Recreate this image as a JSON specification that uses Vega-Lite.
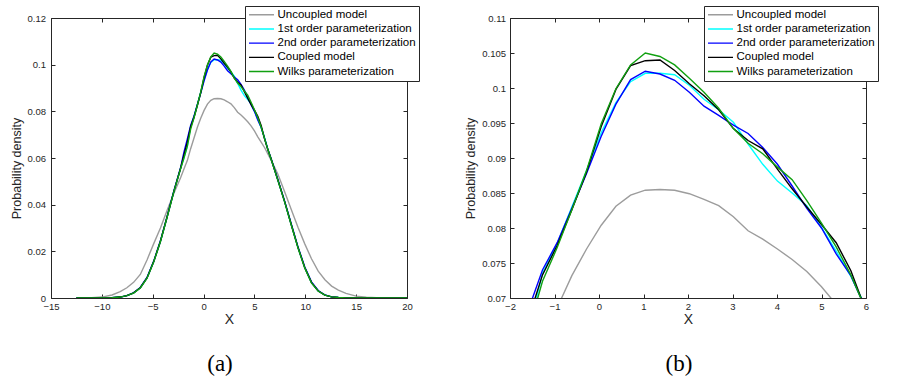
{
"$schema": "https://vega.github.io/schema/vega-lite/v6.json",
"background": "white",
"padding": {"left": 9, "top": 5, "right": 0, "bottom": 0},
"bounds": "flush",
"spacing": 103,
"config": {
"view": {"stroke": "#262626", "strokeWidth": 1},
"axis": {"grid": false, "domain": false, "labelFlush": false, "tickColor": "#262626", "tickSize": -4, "labelFont": "Liberation Sans", "labelFontSize": 9.5, "labelColor": "#262626", "titleFont": "Liberation Sans", "titleFontWeight": "normal", "titleColor": "#262626"},
"legend": {"orient": "none", "legendX": 194, "legendY": -12, "title": null, "symbolType": "stroke", "symbolStrokeWidth": 1.4, "symbolSize": 625, "clipHeight": 11.5, "labelFont": "Liberation Sans", "labelFontSize": 11.5, "labelColor": "black", "padding": 3, "strokeColor": "#262626", "fillColor": "white", "labelOffset": 2.5, "rowPadding": 1.2}
},
"resolve": {"legend": {"color": "independent"}, "scale": {"color": "independent"}},
"datasets": {"pdf": [
{"series":"Uncoupled model","x":-12.5,"density":0},
{"series":"Uncoupled model","x":-11,"density":0.0001},
{"series":"Uncoupled model","x":-10,"density":0.0004},
{"series":"Uncoupled model","x":-9,"density":0.0013},
{"series":"Uncoupled model","x":-8.2,"density":0.0027},
{"series":"Uncoupled model","x":-7.54,"density":0.0044},
{"series":"Uncoupled model","x":-6.88,"density":0.0067},
{"series":"Uncoupled model","x":-6.22,"density":0.0101},
{"series":"Uncoupled model","x":-5.56,"density":0.0163},
{"series":"Uncoupled model","x":-4.9,"density":0.0233},
{"series":"Uncoupled model","x":-4.24,"density":0.03},
{"series":"Uncoupled model","x":-3.58,"density":0.0376},
{"series":"Uncoupled model","x":-2.92,"density":0.0449},
{"series":"Uncoupled model","x":-2.26,"density":0.0515},
{"series":"Uncoupled model","x":-1.93,"density":0.0553},
{"series":"Uncoupled model","x":-1.6,"density":0.0589},
{"series":"Uncoupled model","x":-1.27,"density":0.064},
{"series":"Uncoupled model","x":-0.94,"density":0.0686},
{"series":"Uncoupled model","x":-0.61,"density":0.0732},
{"series":"Uncoupled model","x":-0.28,"density":0.077},
{"series":"Uncoupled model","x":0.05,"density":0.0804},
{"series":"Uncoupled model","x":0.38,"density":0.0831},
{"series":"Uncoupled model","x":0.71,"density":0.0847},
{"series":"Uncoupled model","x":1.04,"density":0.0854},
{"series":"Uncoupled model","x":1.37,"density":0.0855},
{"series":"Uncoupled model","x":1.7,"density":0.0854},
{"series":"Uncoupled model","x":2.03,"density":0.0849},
{"series":"Uncoupled model","x":2.36,"density":0.0841},
{"series":"Uncoupled model","x":2.69,"density":0.0832},
{"series":"Uncoupled model","x":3.02,"density":0.0816},
{"series":"Uncoupled model","x":3.35,"density":0.0796},
{"series":"Uncoupled model","x":3.68,"density":0.0784},
{"series":"Uncoupled model","x":4.01,"density":0.077},
{"series":"Uncoupled model","x":4.34,"density":0.0755},
{"series":"Uncoupled model","x":4.67,"density":0.0738},
{"series":"Uncoupled model","x":5,"density":0.0716},
{"series":"Uncoupled model","x":5.33,"density":0.0691},
{"series":"Uncoupled model","x":5.66,"density":0.0668},
{"series":"Uncoupled model","x":5.99,"density":0.0645},
{"series":"Uncoupled model","x":6.32,"density":0.0618},
{"series":"Uncoupled model","x":6.65,"density":0.059},
{"series":"Uncoupled model","x":7.31,"density":0.053},
{"series":"Uncoupled model","x":7.97,"density":0.0455},
{"series":"Uncoupled model","x":8.63,"density":0.0378},
{"series":"Uncoupled model","x":9.29,"density":0.0302},
{"series":"Uncoupled model","x":9.95,"density":0.0232},
{"series":"Uncoupled model","x":10.61,"density":0.0168},
{"series":"Uncoupled model","x":11.27,"density":0.0115},
{"series":"Uncoupled model","x":11.93,"density":0.0078},
{"series":"Uncoupled model","x":12.59,"density":0.0051},
{"series":"Uncoupled model","x":13.25,"density":0.0034},
{"series":"Uncoupled model","x":14,"density":0.002},
{"series":"Uncoupled model","x":15,"density":0.0008},
{"series":"Uncoupled model","x":16,"density":0.0003},
{"series":"Uncoupled model","x":17,"density":0.0001},
{"series":"Uncoupled model","x":20,"density":0},
{"series":"1st order parameterization","x":-12.5,"density":0},
{"series":"1st order parameterization","x":-11,"density":0},
{"series":"1st order parameterization","x":-10,"density":0.00002},
{"series":"1st order parameterization","x":-9,"density":0.0001},
{"series":"1st order parameterization","x":-8.2,"density":0.0004},
{"series":"1st order parameterization","x":-7.54,"density":0.001},
{"series":"1st order parameterization","x":-6.88,"density":0.0022},
{"series":"1st order parameterization","x":-6.22,"density":0.0044},
{"series":"1st order parameterization","x":-5.56,"density":0.0086},
{"series":"1st order parameterization","x":-4.9,"density":0.0156},
{"series":"1st order parameterization","x":-4.24,"density":0.0243},
{"series":"1st order parameterization","x":-3.58,"density":0.0348},
{"series":"1st order parameterization","x":-2.92,"density":0.0457},
{"series":"1st order parameterization","x":-2.26,"density":0.0556},
{"series":"1st order parameterization","x":-1.93,"density":0.06},
{"series":"1st order parameterization","x":-1.6,"density":0.065},
{"series":"1st order parameterization","x":-1.27,"density":0.0735},
{"series":"1st order parameterization","x":-0.94,"density":0.0778},
{"series":"1st order parameterization","x":-0.61,"density":0.083},
{"series":"1st order parameterization","x":-0.28,"density":0.0882},
{"series":"1st order parameterization","x":0.05,"density":0.0936},
{"series":"1st order parameterization","x":0.38,"density":0.0979},
{"series":"1st order parameterization","x":0.71,"density":0.1009},
{"series":"1st order parameterization","x":1.04,"density":0.1021},
{"series":"1st order parameterization","x":1.37,"density":0.1021},
{"series":"1st order parameterization","x":1.7,"density":0.1019},
{"series":"1st order parameterization","x":2.03,"density":0.1004},
{"series":"1st order parameterization","x":2.36,"density":0.0984},
{"series":"1st order parameterization","x":2.69,"density":0.0969},
{"series":"1st order parameterization","x":3.02,"density":0.0951},
{"series":"1st order parameterization","x":3.35,"density":0.092},
{"series":"1st order parameterization","x":3.68,"density":0.0891},
{"series":"1st order parameterization","x":4.01,"density":0.0867},
{"series":"1st order parameterization","x":4.34,"density":0.085},
{"series":"1st order parameterization","x":4.67,"density":0.0832},
{"series":"1st order parameterization","x":5,"density":0.0801},
{"series":"1st order parameterization","x":5.33,"density":0.0767},
{"series":"1st order parameterization","x":5.66,"density":0.0731},
{"series":"1st order parameterization","x":5.99,"density":0.0688},
{"series":"1st order parameterization","x":6.32,"density":0.0637},
{"series":"1st order parameterization","x":6.65,"density":0.0595},
{"series":"1st order parameterization","x":7.31,"density":0.0505},
{"series":"1st order parameterization","x":7.97,"density":0.0413},
{"series":"1st order parameterization","x":8.63,"density":0.0313},
{"series":"1st order parameterization","x":9.29,"density":0.0215},
{"series":"1st order parameterization","x":9.95,"density":0.013},
{"series":"1st order parameterization","x":10.61,"density":0.0066},
{"series":"1st order parameterization","x":11.27,"density":0.003},
{"series":"1st order parameterization","x":11.93,"density":0.0012},
{"series":"1st order parameterization","x":12.59,"density":0.0005},
{"series":"1st order parameterization","x":13.25,"density":0.0002},
{"series":"1st order parameterization","x":14,"density":0.00005},
{"series":"1st order parameterization","x":15,"density":0},
{"series":"1st order parameterization","x":16,"density":0},
{"series":"1st order parameterization","x":17,"density":0},
{"series":"1st order parameterization","x":20,"density":0},
{"series":"2nd order parameterization","x":-12.5,"density":0},
{"series":"2nd order parameterization","x":-11,"density":0},
{"series":"2nd order parameterization","x":-10,"density":0.00002},
{"series":"2nd order parameterization","x":-9,"density":0.0001},
{"series":"2nd order parameterization","x":-8.2,"density":0.0004},
{"series":"2nd order parameterization","x":-7.54,"density":0.001},
{"series":"2nd order parameterization","x":-6.88,"density":0.0022},
{"series":"2nd order parameterization","x":-6.22,"density":0.0045},
{"series":"2nd order parameterization","x":-5.56,"density":0.0088},
{"series":"2nd order parameterization","x":-4.9,"density":0.0158},
{"series":"2nd order parameterization","x":-4.24,"density":0.0245},
{"series":"2nd order parameterization","x":-3.58,"density":0.035},
{"series":"2nd order parameterization","x":-2.92,"density":0.0459},
{"series":"2nd order parameterization","x":-2.26,"density":0.0558},
{"series":"2nd order parameterization","x":-1.93,"density":0.0625},
{"series":"2nd order parameterization","x":-1.6,"density":0.0681},
{"series":"2nd order parameterization","x":-1.27,"density":0.074},
{"series":"2nd order parameterization","x":-0.94,"density":0.0779},
{"series":"2nd order parameterization","x":-0.61,"density":0.0828},
{"series":"2nd order parameterization","x":-0.28,"density":0.0878},
{"series":"2nd order parameterization","x":0.05,"density":0.0931},
{"series":"2nd order parameterization","x":0.38,"density":0.0977},
{"series":"2nd order parameterization","x":0.71,"density":0.1012},
{"series":"2nd order parameterization","x":1.04,"density":0.1024},
{"series":"2nd order parameterization","x":1.37,"density":0.102},
{"series":"2nd order parameterization","x":1.7,"density":0.1011},
{"series":"2nd order parameterization","x":2.03,"density":0.0994},
{"series":"2nd order parameterization","x":2.36,"density":0.0974},
{"series":"2nd order parameterization","x":2.69,"density":0.0961},
{"series":"2nd order parameterization","x":3.02,"density":0.0947},
{"series":"2nd order parameterization","x":3.35,"density":0.0935},
{"series":"2nd order parameterization","x":3.68,"density":0.0915},
{"series":"2nd order parameterization","x":4.01,"density":0.0891},
{"series":"2nd order parameterization","x":4.34,"density":0.086},
{"series":"2nd order parameterization","x":4.67,"density":0.0828},
{"series":"2nd order parameterization","x":5,"density":0.08},
{"series":"2nd order parameterization","x":5.33,"density":0.0763},
{"series":"2nd order parameterization","x":5.66,"density":0.0732},
{"series":"2nd order parameterization","x":5.99,"density":0.0685},
{"series":"2nd order parameterization","x":6.32,"density":0.0637},
{"series":"2nd order parameterization","x":6.65,"density":0.0596},
{"series":"2nd order parameterization","x":7.31,"density":0.0507},
{"series":"2nd order parameterization","x":7.97,"density":0.0415},
{"series":"2nd order parameterization","x":8.63,"density":0.0316},
{"series":"2nd order parameterization","x":9.29,"density":0.0218},
{"series":"2nd order parameterization","x":9.95,"density":0.0133},
{"series":"2nd order parameterization","x":10.61,"density":0.0069},
{"series":"2nd order parameterization","x":11.27,"density":0.0032},
{"series":"2nd order parameterization","x":11.93,"density":0.0013},
{"series":"2nd order parameterization","x":12.59,"density":0.0005},
{"series":"2nd order parameterization","x":13.25,"density":0.0002},
{"series":"2nd order parameterization","x":14,"density":0.00005},
{"series":"2nd order parameterization","x":15,"density":0},
{"series":"2nd order parameterization","x":16,"density":0},
{"series":"2nd order parameterization","x":17,"density":0},
{"series":"2nd order parameterization","x":20,"density":0},
{"series":"Coupled model","x":-12.5,"density":0},
{"series":"Coupled model","x":-11,"density":0},
{"series":"Coupled model","x":-10,"density":0.00002},
{"series":"Coupled model","x":-9,"density":0.0001},
{"series":"Coupled model","x":-8.2,"density":0.0004},
{"series":"Coupled model","x":-7.54,"density":0.001},
{"series":"Coupled model","x":-6.88,"density":0.0022},
{"series":"Coupled model","x":-6.22,"density":0.0044},
{"series":"Coupled model","x":-5.56,"density":0.0086},
{"series":"Coupled model","x":-4.9,"density":0.0156},
{"series":"Coupled model","x":-4.24,"density":0.0243},
{"series":"Coupled model","x":-3.58,"density":0.0348},
{"series":"Coupled model","x":-2.92,"density":0.0457},
{"series":"Coupled model","x":-2.26,"density":0.0556},
{"series":"Coupled model","x":-1.93,"density":0.0612},
{"series":"Coupled model","x":-1.6,"density":0.0667},
{"series":"Coupled model","x":-1.27,"density":0.0733},
{"series":"Coupled model","x":-0.94,"density":0.0775},
{"series":"Coupled model","x":-0.61,"density":0.0826},
{"series":"Coupled model","x":-0.28,"density":0.088},
{"series":"Coupled model","x":0.05,"density":0.0945},
{"series":"Coupled model","x":0.38,"density":0.0998},
{"series":"Coupled model","x":0.71,"density":0.1032},
{"series":"Coupled model","x":1.04,"density":0.1039},
{"series":"Coupled model","x":1.37,"density":0.104},
{"series":"Coupled model","x":1.7,"density":0.1025},
{"series":"Coupled model","x":2.03,"density":0.1006},
{"series":"Coupled model","x":2.36,"density":0.0989},
{"series":"Coupled model","x":2.69,"density":0.0969},
{"series":"Coupled model","x":3.02,"density":0.0942},
{"series":"Coupled model","x":3.35,"density":0.0925},
{"series":"Coupled model","x":3.68,"density":0.0913},
{"series":"Coupled model","x":4.01,"density":0.0884},
{"series":"Coupled model","x":4.34,"density":0.0856},
{"series":"Coupled model","x":4.67,"density":0.083},
{"series":"Coupled model","x":5,"density":0.0805},
{"series":"Coupled model","x":5.33,"density":0.0779},
{"series":"Coupled model","x":5.66,"density":0.0739},
{"series":"Coupled model","x":5.99,"density":0.0683},
{"series":"Coupled model","x":6.32,"density":0.0636},
{"series":"Coupled model","x":6.65,"density":0.0595},
{"series":"Coupled model","x":7.31,"density":0.0505},
{"series":"Coupled model","x":7.97,"density":0.0413},
{"series":"Coupled model","x":8.63,"density":0.0313},
{"series":"Coupled model","x":9.29,"density":0.0215},
{"series":"Coupled model","x":9.95,"density":0.013},
{"series":"Coupled model","x":10.61,"density":0.0066},
{"series":"Coupled model","x":11.27,"density":0.003},
{"series":"Coupled model","x":11.93,"density":0.0012},
{"series":"Coupled model","x":12.59,"density":0.0005},
{"series":"Coupled model","x":13.25,"density":0.0002},
{"series":"Coupled model","x":14,"density":0.00005},
{"series":"Coupled model","x":15,"density":0},
{"series":"Coupled model","x":16,"density":0},
{"series":"Coupled model","x":17,"density":0},
{"series":"Coupled model","x":20,"density":0},
{"series":"Wilks parameterization","x":-12.5,"density":0},
{"series":"Wilks parameterization","x":-11,"density":0},
{"series":"Wilks parameterization","x":-10,"density":0.00002},
{"series":"Wilks parameterization","x":-9,"density":0.0001},
{"series":"Wilks parameterization","x":-8.2,"density":0.0004},
{"series":"Wilks parameterization","x":-7.54,"density":0.001},
{"series":"Wilks parameterization","x":-6.88,"density":0.0021},
{"series":"Wilks parameterization","x":-6.22,"density":0.0043},
{"series":"Wilks parameterization","x":-5.56,"density":0.0085},
{"series":"Wilks parameterization","x":-4.9,"density":0.0155},
{"series":"Wilks parameterization","x":-4.24,"density":0.0242},
{"series":"Wilks parameterization","x":-3.58,"density":0.0347},
{"series":"Wilks parameterization","x":-2.92,"density":0.0456},
{"series":"Wilks parameterization","x":-2.26,"density":0.0554},
{"series":"Wilks parameterization","x":-1.93,"density":0.06},
{"series":"Wilks parameterization","x":-1.6,"density":0.065},
{"series":"Wilks parameterization","x":-1.27,"density":0.0724},
{"series":"Wilks parameterization","x":-0.94,"density":0.0772},
{"series":"Wilks parameterization","x":-0.61,"density":0.0826},
{"series":"Wilks parameterization","x":-0.28,"density":0.0882},
{"series":"Wilks parameterization","x":0.05,"density":0.0949},
{"series":"Wilks parameterization","x":0.38,"density":0.0999},
{"series":"Wilks parameterization","x":0.71,"density":0.1033},
{"series":"Wilks parameterization","x":1.04,"density":0.105},
{"series":"Wilks parameterization","x":1.37,"density":0.1045},
{"series":"Wilks parameterization","x":1.7,"density":0.1033},
{"series":"Wilks parameterization","x":2.03,"density":0.1014},
{"series":"Wilks parameterization","x":2.36,"density":0.0994},
{"series":"Wilks parameterization","x":2.69,"density":0.0971},
{"series":"Wilks parameterization","x":3.02,"density":0.0942},
{"series":"Wilks parameterization","x":3.35,"density":0.0921},
{"series":"Wilks parameterization","x":3.68,"density":0.0906},
{"series":"Wilks parameterization","x":4.01,"density":0.0887},
{"series":"Wilks parameterization","x":4.34,"density":0.0869},
{"series":"Wilks parameterization","x":4.67,"density":0.0839},
{"series":"Wilks parameterization","x":5,"density":0.0807},
{"series":"Wilks parameterization","x":5.33,"density":0.0773},
{"series":"Wilks parameterization","x":5.66,"density":0.0733},
{"series":"Wilks parameterization","x":5.99,"density":0.0684},
{"series":"Wilks parameterization","x":6.32,"density":0.0636},
{"series":"Wilks parameterization","x":6.65,"density":0.0594},
{"series":"Wilks parameterization","x":7.31,"density":0.0504},
{"series":"Wilks parameterization","x":7.97,"density":0.0412},
{"series":"Wilks parameterization","x":8.63,"density":0.0312},
{"series":"Wilks parameterization","x":9.29,"density":0.0214},
{"series":"Wilks parameterization","x":9.95,"density":0.0129},
{"series":"Wilks parameterization","x":10.61,"density":0.0065},
{"series":"Wilks parameterization","x":11.27,"density":0.003},
{"series":"Wilks parameterization","x":11.93,"density":0.0012},
{"series":"Wilks parameterization","x":12.59,"density":0.0005},
{"series":"Wilks parameterization","x":13.25,"density":0.0002},
{"series":"Wilks parameterization","x":14,"density":0.00005},
{"series":"Wilks parameterization","x":15,"density":0},
{"series":"Wilks parameterization","x":16,"density":0},
{"series":"Wilks parameterization","x":17,"density":0},
{"series":"Wilks parameterization","x":20,"density":0}
]},
"hconcat": [
{
"width": 356, "height": 280,
"title": {"text": "(a)", "orient": "bottom", "font": "Liberation Serif", "fontSize": 23, "fontWeight": "normal", "color": "black", "offset": 26, "dx": -9},
"data": {"name": "pdf"},
"layer": [
{"mark": {"type": "line", "clip": true, "strokeWidth": 1.4},
"encoding": {
"x": {"field": "x", "type": "quantitative", "scale": {"domain": [-15, 20], "nice": false, "zero": false}, "axis": {"values": [-15,-10,-5,0,5,10,15,20], "title": "X", "titleFontSize": 14, "labelPadding": 7.5, "titlePadding": 1.5}},
"y": {"field": "density", "type": "quantitative", "scale": {"domain": [0, 0.12], "nice": false}, "axis": {"values": [0,0.02,0.04,0.06,0.08,0.1,0.12], "format": ".3~g", "title": "Probability density", "titleFontSize": 12.5, "labelPadding": 9.5, "titlePadding": 4, "titleY": 150}},
"color": {"field": "series", "type": "nominal", "sort": null, "scale": {"domain": ["Uncoupled model","1st order parameterization","2nd order parameterization","Coupled model","Wilks parameterization"], "range": ["#9c9c9c","#00ffff","#0000ff","#000000","#10a010"]}}
}},
{"mark": {"type": "line", "clip": true, "strokeOpacity": 0},
"encoding": {
"x": {"field": "x", "type": "quantitative", "axis": {"orient": "top", "values": [-15,-10,-5,0,5,10,15,20], "labels": false, "title": null}},
"y": {"field": "density", "type": "quantitative", "axis": {"orient": "right", "values": [0,0.02,0.04,0.06,0.08,0.1,0.12], "labels": false, "title": null}}
}}
],
"resolve": {"axis": {"x": "independent", "y": "independent"}}
},
{
"width": 356, "height": 280,
"title": {"text": "(b)", "orient": "bottom", "font": "Liberation Serif", "fontSize": 23, "fontWeight": "normal", "color": "black", "offset": 26, "dx": -9},
"data": {"name": "pdf"},
"layer": [
{"mark": {"type": "line", "clip": true, "strokeWidth": 1.4},
"encoding": {
"x": {"field": "x", "type": "quantitative", "scale": {"domain": [-2, 6], "nice": false, "zero": false}, "axis": {"values": [-2,-1,0,1,2,3,4,5,6], "title": "X", "titleFontSize": 14, "labelPadding": 7.5, "titlePadding": 1.5}},
"y": {"field": "density", "type": "quantitative", "scale": {"domain": [0.07, 0.11], "nice": false, "zero": false}, "axis": {"values": [0.07,0.075,0.08,0.085,0.09,0.095,0.1,0.105,0.11], "format": ".3~g", "title": "Probability density", "titleFontSize": 12.5, "labelPadding": 8.5, "titlePadding": 4, "titleY": 150}},
"color": {"field": "series", "type": "nominal", "sort": null, "scale": {"domain": ["Uncoupled model","1st order parameterization","2nd order parameterization","Coupled model","Wilks parameterization"], "range": ["#9c9c9c","#00ffff","#0000ff","#000000","#10a010"]}}
}},
{"mark": {"type": "line", "clip": true, "strokeOpacity": 0},
"encoding": {
"x": {"field": "x", "type": "quantitative", "axis": {"orient": "top", "values": [-2,-1,0,1,2,3,4,5,6], "labels": false, "title": null}},
"y": {"field": "density", "type": "quantitative", "axis": {"orient": "right", "values": [0.07,0.075,0.08,0.085,0.09,0.095,0.1,0.105,0.11], "labels": false, "title": null}}
}}
],
"resolve": {"axis": {"x": "independent", "y": "independent"}}
}
]
}
